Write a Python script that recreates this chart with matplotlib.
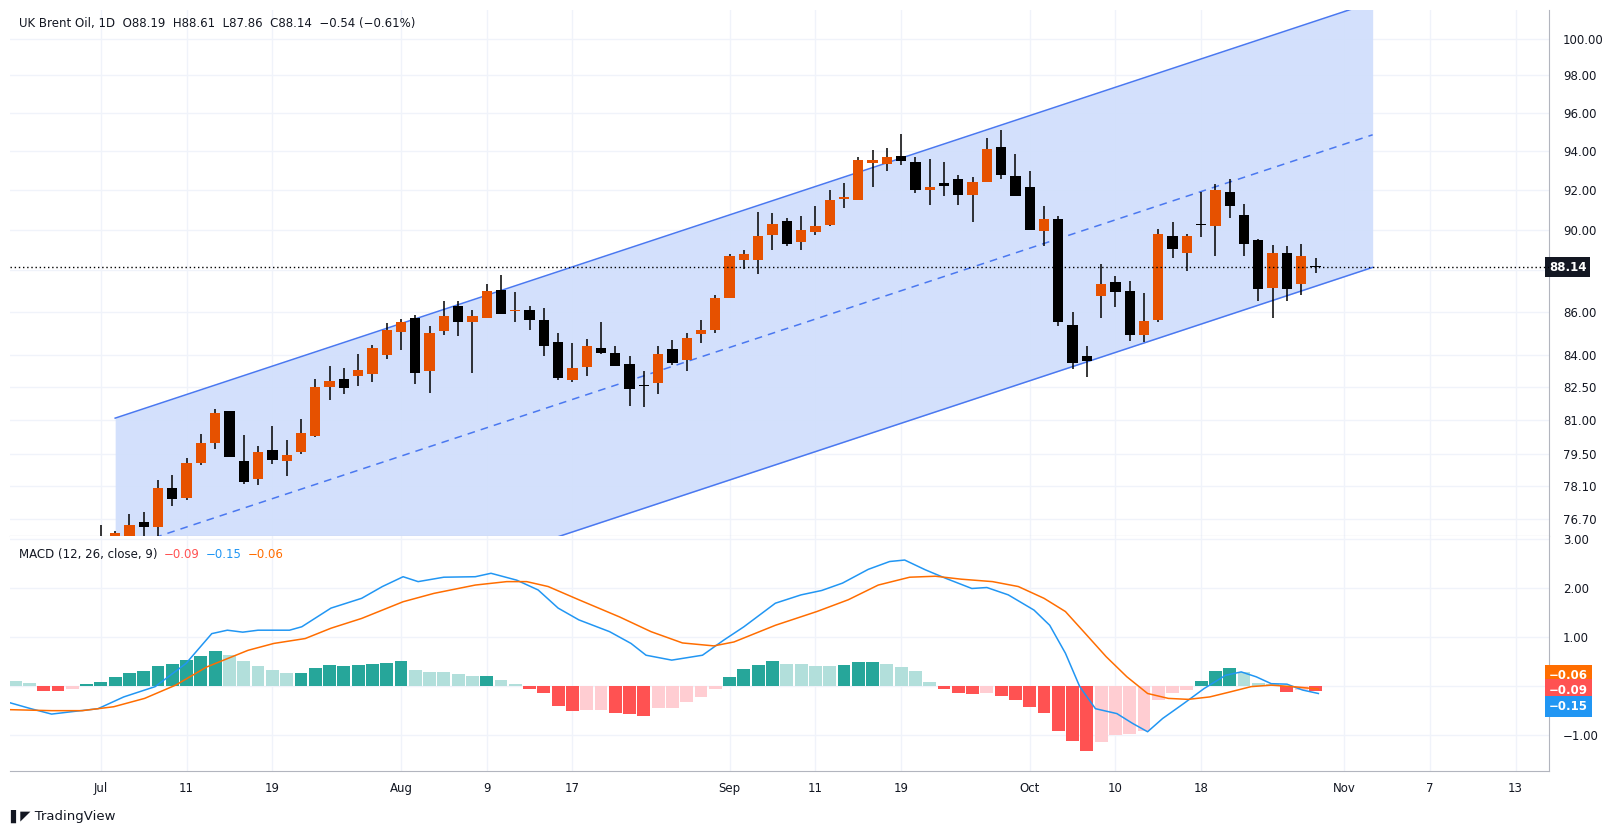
import numpy as np
import matplotlib
matplotlib.use('Agg')
import matplotlib.pyplot as plt
from matplotlib.patches import Rectangle
from matplotlib.transforms import offset_copy

# ---- candles (bar index 0 = 1st visible full candle after Jul 1 label) ----
bar_idx = list(range(-4, 82))
opens = [75.9, 75.4, 75.8, 76.57, 76.35, 78.03, 77.6, 79.1, 80.0, 81.4, 79.2, 78.4, 79.69, 79.2,
         79.6, 80.3, 82.5, 82.87, 83.0, 83.1, 84.0, 85.05, 85.71, 83.24, 85.1, 86.3, 85.53, 85.7,
         87.05, 86.05, 86.1, 85.62, 84.59, 82.83, 83.43, 84.3, 84.07, 83.57, 82.62, 82.69, 84.26,
         83.75, 84.96, 85.15, 86.66, 88.51, 88.51, 89.75, 90.43, 89.4, 89.9, 90.22, 91.55, 91.49,
         93.37, 93.3, 93.75, 93.43, 92.0, 92.35, 92.56, 91.75, 92.4, 94.2, 92.72, 92.15, 89.95,
         90.53, 85.38, 83.94, 86.75, 87.45, 87.0, 84.9, 85.62, 89.7, 88.85, 90.3, 90.17, 91.9,
         90.75, 89.49, 87.15, 88.85, 87.35, 88.19]
highs = [76.45, 76.2, 76.9, 76.99, 78.38, 78.6, 79.35, 80.4, 81.5, 81.43, 80.35, 79.87, 80.75, 80.13,
         81.07, 82.87, 83.48, 83.38, 84.03, 84.45, 85.48, 85.67, 85.86, 85.33, 86.5, 86.5, 86.1, 87.35,
         87.75, 86.95, 86.3, 86.2, 85.0, 84.54, 84.73, 85.53, 84.4, 83.94, 83.24, 84.4, 84.68,
         85.0, 85.62, 86.8, 88.8, 89.0, 90.88, 90.83, 90.57, 90.67, 91.2, 92.0, 92.35, 93.7,
         94.05, 94.15, 94.9, 93.7, 93.6, 93.43, 92.77, 92.66, 94.67, 95.1, 93.85, 92.97, 91.2,
         90.67, 86.0, 84.4, 88.3, 87.7, 87.5, 86.9, 90.05, 90.38, 89.8, 91.9, 92.3, 92.56,
         91.3, 89.55, 89.25, 89.2, 89.3, 88.61]
lows = [75.3, 75.2, 75.6, 75.9, 75.9, 77.25, 77.51, 79.05, 79.73, 79.4, 78.2, 78.15, 79.07, 78.55,
        79.5, 80.26, 81.92, 82.2, 82.55, 82.74, 83.8, 84.21, 82.65, 82.23, 84.9, 84.86, 83.15, 85.7,
        85.9, 85.53, 85.15, 83.94, 82.83, 82.74, 83.0, 84.03, 83.47, 81.65, 81.6, 82.2, 83.52,
        83.24, 84.54, 85.0, 86.66, 88.07, 87.8, 89.0, 89.2, 89.0, 89.75, 90.17, 91.1, 91.49,
        92.15, 92.97, 93.27, 91.85, 91.25, 91.7, 91.25, 90.4, 92.4, 92.56, 91.7, 89.99, 89.2,
        85.33, 83.33, 82.97, 85.7, 86.25, 84.63, 84.59, 85.53, 88.6, 87.94, 89.65, 88.7, 90.6,
        88.7, 86.5, 85.7, 86.5, 86.8, 87.86]
closes = [75.5, 76.12, 76.45, 76.35, 78.03, 77.55, 79.1, 80.0, 81.35, 79.4, 78.3, 79.6, 79.25, 79.47,
          80.44, 82.5, 82.78, 82.45, 83.29, 84.3, 85.15, 85.52, 83.15, 85.0, 85.8, 85.53, 85.8, 87.0,
          85.9, 86.1, 85.62, 84.4, 82.9, 83.38, 84.4, 84.07, 83.47, 82.42, 82.55, 84.03, 83.6,
          84.78, 85.15, 86.66, 88.7, 88.8, 89.7, 90.27, 89.3, 90.0, 90.17, 91.49, 91.65, 93.53,
          93.53, 93.7, 93.48, 92.0, 92.15, 92.2, 91.75, 92.4, 94.1, 92.77, 91.7, 89.99, 90.53,
          85.52, 83.61, 83.7, 87.35, 86.95, 84.9, 85.57, 89.8, 89.05, 89.7, 90.22, 92.0, 91.2,
          89.3, 87.1, 88.85, 87.1, 88.7, 88.14]

# ---- channel ----
chan_x = [-3, 85]
chan_upper = [81.1, 102.04]
chan_lower = [70.06, 88.14]
last_price = 88.14

# ---- MACD histogram (bars -10..81) ----
hist_idx = list(range(-10, 82))
hist_vals = [0.10, 0.07, -0.10, -0.10, -0.05, 0.04, 0.08, 0.18, 0.27, 0.31, 0.41, 0.45, 0.53, 0.61,
             0.71, 0.63, 0.52, 0.41, 0.33, 0.27, 0.27, 0.36, 0.43, 0.41, 0.44, 0.46, 0.48, 0.51,
             0.33, 0.29, 0.29, 0.25, 0.21, 0.20, 0.12, 0.04, -0.05, -0.13, -0.40, -0.50, -0.49,
             -0.49, -0.54, -0.57, -0.61, -0.44, -0.44, -0.32, -0.22, -0.05, 0.18, 0.34, 0.43, 0.51,
             0.46, 0.45, 0.41, 0.41, 0.43, 0.50, 0.50, 0.45, 0.39, 0.30, 0.09, -0.05, -0.15, -0.17,
             -0.15, -0.20, -0.29, -0.43, -0.54, -0.91, -1.12, -1.33, -1.14, -0.99, -0.97, -0.92,
             -0.29, -0.15, -0.08, 0.11, 0.31, 0.37, 0.29, 0.06, 0.05, -0.12, -0.08, -0.09]
hist_colors = ['lt', 'lt', 'r', 'r', 'p', 'g', 'g', 'g', 'g', 'g', 'g', 'g', 'g', 'g',
               'g', 'lt', 'lt', 'lt', 'lt', 'lt', 'g', 'g', 'g', 'g', 'g', 'g', 'g', 'g',
               'lt', 'lt', 'lt', 'lt', 'lt', 'g', 'lt', 'lt', 'r', 'r', 'r', 'r', 'p',
               'p', 'r', 'r', 'r', 'p', 'p', 'p', 'p', 'p', 'g', 'g', 'g', 'g',
               'lt', 'lt', 'lt', 'lt', 'g', 'g', 'g', 'lt', 'lt', 'lt', 'lt', 'r', 'r', 'r',
               'p', 'r', 'r', 'r', 'r', 'r', 'r', 'r', 'p', 'p', 'p', 'p',
               'p', 'p', 'p', 'g', 'g', 'g', 'lt', 'lt', 'lt', 'r', 'p', 'r']

macd_x = [-10.35, -8.9, -7.45, -6.0, -4.2, -2.4, -0.2, 1.95, 3.76, 4.85, 5.93, 7.0, 9.2, 10.06,
          12.1, 14.25, 15.7, 17.15, 18.2, 20.0, 22.2, 23.3, 25.1, 26.6, 28.0, 29.45, 31.6, 33.1,
          34.15, 35.95, 38.1, 39.6, 41.0, 43.2, 45.0, 46.45, 47.9, 49.7, 51.2, 52.25, 53.7, 55.1,
          56.95, 58.0, 59.5, 61.3, 62.4, 63.5, 64.5, 65.6, 67.1, 68.2, 69.25, 70.3, 71.8, 73.2,
          74.7, 75.8, 76.85, 77.9, 79.0, 80.1, 81.2]
macd_y = [-0.34, -0.46, -0.57, -0.52, -0.46, -0.22, -0.01, 0.46, 1.07, 1.14, 1.10, 1.14, 1.14, 1.21,
          1.59, 1.79, 2.03, 2.23, 2.13, 2.22, 2.23, 2.30, 2.16, 1.96, 1.59, 1.35, 1.11, 0.87,
          0.63, 0.53, 0.63, 0.94, 1.21, 1.69, 1.86, 1.95, 2.10, 2.38, 2.54, 2.57, 2.37, 2.20,
          1.99, 2.01, 1.86, 1.55, 1.24, 0.67, -0.01, -0.46, -0.56, -0.76, -0.93, -0.66, -0.35, -0.05,
          0.22, 0.29, 0.19, 0.05, 0.04, -0.08, -0.15]
sig_x = [-10.35, -7.45, -5.3, -3.1, -0.94, 1.23, 3.4, 6.3, 8.1, 10.3, 12.1, 14.25, 17.15, 19.3,
         22.2, 24.4, 25.8, 27.3, 29.45, 32.3, 34.5, 36.7, 38.9, 40.3, 43.2, 46.1, 48.3, 50.4,
         52.6, 54.4, 56.2, 58.4, 60.2, 62.0, 63.5, 64.9, 66.35, 67.8, 69.25, 70.7, 72.1, 73.6,
         75.0, 76.5, 77.9, 79.4, 81.2]
sig_y = [-0.48, -0.50, -0.50, -0.42, -0.25, 0.02, 0.39, 0.73, 0.87, 0.97, 1.18, 1.38, 1.72, 1.89,
         2.06, 2.13, 2.13, 2.03, 1.76, 1.41, 1.11, 0.88, 0.82, 0.90, 1.24, 1.52, 1.76, 2.06,
         2.22, 2.24, 2.18, 2.13, 2.03, 1.79, 1.52, 1.07, 0.60, 0.19, -0.15, -0.25, -0.27, -0.22,
         -0.12, -0.01, 0.02, -0.01, -0.06]

# ---- axis labels ----
xtick_pos = [-4, 2, 8, 17, 23, 29, 40, 46, 52, 61, 67, 73, 83, 89, 95]
xtick_lab = ['Jul', '11', '19', 'Aug', '9', '17', 'Sep', '11', '19', 'Oct', '10', '18', 'Nov', '7', '13']
price_ticks = [100, 98, 96, 94, 92, 90, 88, 86, 84, 82.5, 81, 79.5, 78.1, 76.7]
macd_ticks = [3, 2, 1, 0, -1]
macd_tick_lab = ['3.00', '2.00', '1.00', '', '\u22121.00']

UP, DOWN = '#e65100', '#000000'
HCOL = {'g': '#26a69a', 'lt': '#b2dfdb', 'r': '#ff5252', 'p': '#ffcdd2'}
GRID = '#f0f3fa'
TXT = '#131722'

W, H = 1613, 834
fig = plt.figure(figsize=(W / 100, H / 100), dpi=100)
fig.patch.set_facecolor('white')
L, R = 10, 1549
ax = fig.add_axes([L / W, 1 - 536 / H, (R - L) / W, 526 / H])
axm = fig.add_axes([L / W, 1 - 771 / H, (R - L) / W, 235 / H], sharex=ax)
xlim = (-10.36, 97.34)

# main pane
ax.set_yscale('log')
ax.set_ylim(75.99, 101.6)
ax.set_xlim(*xlim)
for p in price_ticks:
    ax.axhline(p, color=GRID, lw=1, zorder=0)
for t in xtick_pos:
    ax.axvline(t, color=GRID, lw=1, zorder=0)
    axm.axvline(t, color=GRID, lw=1, zorder=0)

cx = np.array(chan_x, float)
up_ = np.array(chan_upper)
lo_ = np.array(chan_lower)
mid = np.sqrt(up_ * lo_)
ax.fill_between(cx, lo_, up_, color='#d1dffc', alpha=0.95, lw=0, zorder=1)
ax.plot(cx, up_, color='#4a78f0', lw=1.1, zorder=2)
ax.plot(cx, lo_, color='#4a78f0', lw=1.1, zorder=2)
ax.plot(cx, mid, color='#4a78f0', lw=1.1, ls=(0, (5, 4)), zorder=2)

bw = 0.72
for i, o, h, l, c in zip(bar_idx, opens, highs, lows, closes):
    col = UP if c >= o else DOWN
    ax.vlines(i, l, h, color='black', lw=1.1, zorder=3)
    lo_b, hi_b = min(o, c), max(o, c)
    if hi_b / lo_b < 1.0006:
        hi_b = lo_b * 1.0006
    ax.add_patch(Rectangle((i - bw / 2, lo_b), bw, hi_b - lo_b, color=col, lw=0, zorder=4))

ax.axhline(last_price, color='black', lw=1, ls=(0, (1, 2)), zorder=5)
ax.yaxis.tick_right()
ax.set_yticks(price_ticks)
ax.set_yticklabels(['' if p == 88 else f'{p:.2f}' for p in price_ticks])
ax.yaxis.set_minor_locator(matplotlib.ticker.NullLocator())
ax.tick_params(axis='y', length=0, labelsize=8.5, labelcolor=TXT, pad=10)
ax.tick_params(axis='x', length=0, labelbottom=False)
ax.text(1.0, last_price, '88.14', transform=ax.get_yaxis_transform(), ha='left', va='center',
        fontsize=8.5, color='white', fontweight='bold',
        bbox=dict(boxstyle='square,pad=0.3', fc='#131722', ec='none'))
ax.text(0.006, 0.975, 'UK Brent Oil, 1D  O88.19  H88.61  L87.86  C88.14  \u22120.54 (\u22120.61%)',
        transform=ax.transAxes, fontsize=8.5, color=TXT, va='center')

# MACD pane
axm.set_ylim(-1.73, 3.06)
for v in macd_ticks:
    axm.axhline(v, color=GRID, lw=1, zorder=0)
axm.bar(hist_idx, hist_vals, width=0.9, color=[HCOL[c] for c in hist_colors], zorder=2)
axm.plot(macd_x, macd_y, color='#2196f3', lw=1.1, zorder=3)
axm.plot(sig_x, sig_y, color='#ff6d00', lw=1.1, zorder=3)
axm.yaxis.tick_right()
axm.set_yticks(macd_ticks)
axm.set_yticklabels(macd_tick_lab)
axm.tick_params(axis='y', length=0, labelsize=8.5, labelcolor=TXT, pad=10)
axm.set_xticks(xtick_pos)
axm.set_xticklabels(xtick_lab)
axm.tick_params(axis='x', length=0, labelsize=8.5, labelcolor=TXT, pad=8)
for txt, yv, fc in [('\u22120.06', 0.22, '#ff6d00'), ('\u22120.09', -0.08, '#ff5252'),
                    ('\u22120.15', -0.41, '#2196f3')]:
    axm.text(1.0, yv, txt, transform=axm.get_yaxis_transform(), ha='left', va='center',
             fontsize=8.5, color='white', fontweight='bold',
             bbox=dict(boxstyle='square,pad=0.35', fc=fc, ec='none'))

# MACD legend, pieces laid out one after another
renderer = fig.canvas.get_renderer()
tr = axm.transAxes
for txt, col in [('MACD (12, 26, close, 9)', TXT), ('\u22120.09', '#ff5252'),
                 ('\u22120.15', '#2196f3'), ('\u22120.06', '#ff6d00')]:
    t = axm.text(0.006, 0.92, txt, transform=tr, fontsize=8.5, color=col, va='center')
    w = t.get_window_extent(renderer).width
    tr = offset_copy(tr, fig=fig, x=w + 6, units='dots')

for a in (ax, axm):
    for s in ['top', 'left']:
        a.spines[s].set_visible(False)
    a.spines['right'].set_color('#b2b5be')
    a.spines['bottom'].set_color('#b2b5be')

fig.text(10 / W, 1 - 816 / H, '\u258c\u25e4 TradingView', fontsize=9.5, color=TXT, va='center')
fig.savefig('out.png', dpi=100)
